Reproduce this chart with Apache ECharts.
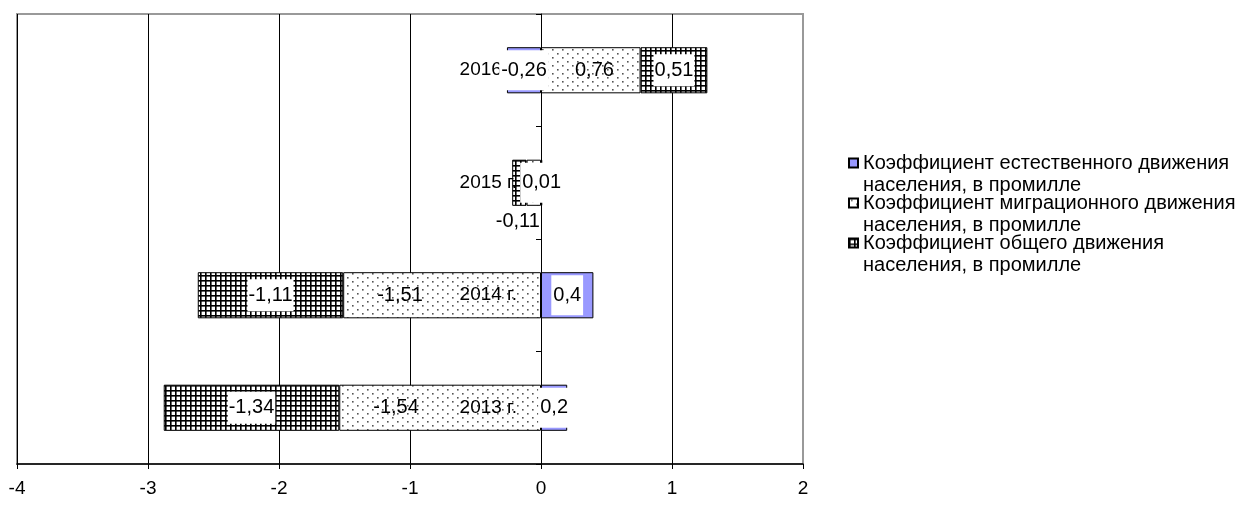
<!DOCTYPE html>
<html>
<head>
<meta charset="utf-8">
<script src="https://cdn.jsdelivr.net/npm/echarts@6/dist/echarts.min.js"></script>
<style>
html,body{margin:0;padding:0;background:#fff;}
#chart{width:1247px;height:506px;}
</style>
</head>
<body>
<div id="chart"></div>
<script>
// ---- data ----
const categories = ['2013 г.', '2014 г.', '2015 г.', '2016 г.'];
const seriesNames = [
  'Коэффициент естественного движения населения, в промилле',
  'Коэффициент миграционного движения населения, в промилле',
  'Коэффициент общего движения населения, в промилле'
];
const naturalValues   = [0.2, 0.4, 0.01, -0.26];
const migrationValues = [-1.54, -1.51, -0.11, 0.76];
const totalValues     = [-1.34, -1.11, -0.11, 0.51];
const xMin = -4, xMax = 2, xStep = 1;

// ---- layout ----
const W = 1247, H = 506;
const GRID = { left: 17, right: 444, top: 14, bottom: 42 };
const gridWidth = W - GRID.left - GRID.right;
const zeroOffset = -gridWidth * (0 - xMin) / (xMax - xMin);

// ---- patterns ----
function makeGrid() {
  const c = document.createElement('canvas');
  c.width = 5; c.height = 5;
  const g = c.getContext('2d');
  g.fillStyle = '#fff'; g.fillRect(0, 0, 5, 5);
  g.fillStyle = '#000';
  g.fillRect(0, 0, 5, 1.6);
  g.fillRect(0, 0, 1.6, 5);
  return c;
}
function makeDots() {
  const c = document.createElement('canvas');
  c.width = 10; c.height = 8;
  const g = c.getContext('2d');
  g.fillStyle = '#fff'; g.fillRect(0, 0, 10, 8);
  g.fillStyle = '#555';
  g.fillRect(2, 1, 1.6, 1.6);
  g.fillRect(7, 5, 1.6, 1.6);
  return c;
}
const gridPattern = { image: makeGrid(), repeat: 'repeat' };
const dotPattern = { image: makeDots(), repeat: 'repeat' };

const FONT = 'Liberation Sans, Arial, sans-serif';
const LABEL_SIZE = 20, LEGEND_SIZE = 20, AXIS_SIZE = 19;
const fmt = v => String(v).replace('.', ',');
const legendIcon = 'path://M0,0h9v9h-9z M4.5,31 L4.5,31';

const chart = echarts.init(document.getElementById('chart'));
chart.setOption({
  animation: false,
  backgroundColor: '#fff',
  textStyle: { fontFamily: FONT },
  grid: {
    left: GRID.left, right: GRID.right, top: GRID.top, bottom: GRID.bottom,
    outerBoundsMode: 'none', containLabel: false,
    show: true, borderColor: '#999', borderWidth: 2, backgroundColor: '#fff'
  },
  legend: {
    orient: 'vertical',
    left: 843, top: 147,
    itemWidth: 9, itemHeight: 31, itemGap: -4,
    icon: legendIcon,
    data: seriesNames,
    formatter: n => n.replace(' населения', '\nнаселения'),
    textStyle: { fontFamily: FONT, fontSize: LEGEND_SIZE, lineHeight: 22, color: '#000' }
  },
  xAxis: {
    type: 'value', min: xMin, max: xMax, interval: xStep,
    axisLine: { show: true, lineStyle: { color: '#000', width: 1.5 } },
    axisTick: { show: true, length: 5, lineStyle: { color: '#000' } },
    axisLabel: { color: '#000', fontSize: AXIS_SIZE, margin: 15, fontFamily: FONT,
      formatter: v => fmt(v) },
    splitLine: { show: true, showMaxLine: false, lineStyle: { color: '#000', width: 1 } }
  },
  yAxis: {
    type: 'category', data: categories, z: 3,
    position: 'left', offset: zeroOffset,
    axisLine: { show: true, onZero: false, lineStyle: { color: '#000', width: 1 } },
    axisTick: { show: true, length: 5, inside: false, alignWithLabel: false, lineStyle: { color: '#000' } },
    axisLabel: { color: '#000', fontSize: AXIS_SIZE, margin: 24, fontFamily: FONT },
    splitLine: { show: false }
  },
  series: [
    {
      name: seriesNames[0], type: 'bar', stack: 's', z: 4,
      barCategoryGap: '59%',
      data: naturalValues,
      itemStyle: { color: '#9999FF', borderColor: '#000', borderWidth: 1 },
      label: {
        show: true, position: 'inside', formatter: p => fmt(p.value),
        color: '#000', fontSize: LABEL_SIZE, fontFamily: FONT,
        backgroundColor: '#fff', padding: [10, 2]
      }
    },
    {
      name: seriesNames[1], type: 'bar', stack: 's',
      barCategoryGap: '59%',
      data: migrationValues.map(v => ({
        value: v,
        label: Math.abs(v) < 0.2 ? { position: 'bottom', distance: 6, offset: [-16, 0] } : {}
      })),
      itemStyle: { color: dotPattern, borderColor: '#000', borderWidth: 1 },
      label: {
        show: true, position: 'insideLeft', distance: 34, formatter: p => fmt(p.value),
        color: '#000', fontSize: LABEL_SIZE, fontFamily: FONT
      }
    },
    {
      name: seriesNames[2], type: 'bar', stack: 's',
      barCategoryGap: '59%',
      data: totalValues.map(v => ({
        value: v,
        label: Math.abs(v) < 0.2 ? { show: false } : {}
      })),
      itemStyle: { color: gridPattern, borderColor: '#000', borderWidth: 1 },
      label: {
        show: true, position: 'inside', formatter: p => fmt(p.value),
        color: '#000', fontSize: LABEL_SIZE, fontFamily: FONT,
        backgroundColor: '#fff', padding: [6, 1]
      }
    }
  ]
});
</script>
</body>
</html>
